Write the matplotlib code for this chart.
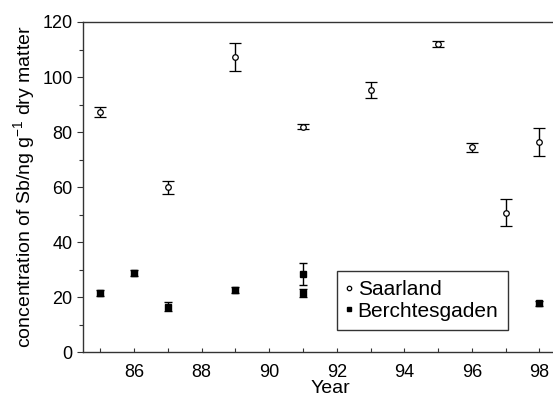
import matplotlib
matplotlib.use("Agg")
import matplotlib.pyplot as plt
from matplotlib.ticker import MultipleLocator

plt.rcParams['font.family'] = ['Liberation Sans', 'DejaVu Sans']
plt.rcParams['mathtext.fontset'] = 'custom'
plt.rcParams['mathtext.rm'] = 'Liberation Sans'
plt.rcParams['mathtext.it'] = 'Liberation Sans'

saar_years = [85, 87, 89, 91, 93, 95, 96, 97, 98]
saar_vals = [87.3, 60, 107.3, 82, 95.2, 112, 74.5, 50.8, 76.4]
saar_err = [1.8, 2.4, 5, 0.8, 2.9, 1, 1.7, 5, 5.1]

berch_years = [85, 86, 87, 89, 91, 91, 98]
berch_vals = [21.5, 28.9, 16.6, 22.6, 28.4, 21.5, 17.8]
berch_err = [1, 1, 1.6, 1, 4, 1.5, 1]

fig = plt.figure(figsize=(5.53, 4.0), dpi=100)
ax = fig.add_axes([0.150, 0.119, 0.85, 0.826])

ax.errorbar(saar_years, saar_vals, yerr=saar_err, fmt='o', ms=4, mfc='white',
            mec='black', mew=0.9, ecolor='black', elinewidth=1, capsize=4,
            capthick=1, label='Saarland')
ax.errorbar(berch_years, berch_vals, yerr=berch_err, fmt='s', ms=4, mfc='black',
            mec='black', ecolor='black', elinewidth=1, capsize=3, capthick=1,
            label='Berchtesgaden')

ax.set_xlim(84.49, 98.4)
ax.set_ylim(0, 120)
ax.set_xticks([86, 88, 90, 92, 94, 96, 98])
ax.xaxis.set_minor_locator(MultipleLocator(1))
ax.yaxis.set_major_locator(MultipleLocator(20))
ax.yaxis.set_minor_locator(MultipleLocator(10))
ax.spines['right'].set_visible(False)
for s in ['left', 'bottom', 'top']:
    ax.spines[s].set_linewidth(1.0)
    ax.spines[s].set_color('#333333')
ax.tick_params(axis='y', which='major', labelsize=13, length=4, width=0.8,
               direction='out', color='#333333')
ax.tick_params(axis='y', which='minor', length=3, width=0.8, direction='out',
               color='#333333')
ax.tick_params(axis='x', which='major', labelsize=13, length=3, width=0.8,
               direction='in', pad=8, color='#333333')
ax.tick_params(axis='x', which='minor', length=3, width=0.8, direction='in',
               color='#333333')

ax.set_xlabel('Year', fontsize=14, labelpad=-2)
ax.xaxis.set_label_coords(0.526, -0.085)
ax.set_ylabel(r'concentration of Sb/ng g$^{-1}$ dry matter', fontsize=14, labelpad=4)

handles, labels = ax.get_legend_handles_labels()
handles = [h[0] for h in handles]
leg = ax.legend(handles, labels, loc='lower left', bbox_to_anchor=(0.54, 0.068),
                fontsize=15, frameon=True, fancybox=False, edgecolor='black',
                handlelength=0.3, handletextpad=0.25, borderpad=0.45,
                labelspacing=0.12, markerscale=0.8, borderaxespad=0)
leg.get_frame().set_linewidth(1.0)

fig.savefig('out.png', dpi=100)
